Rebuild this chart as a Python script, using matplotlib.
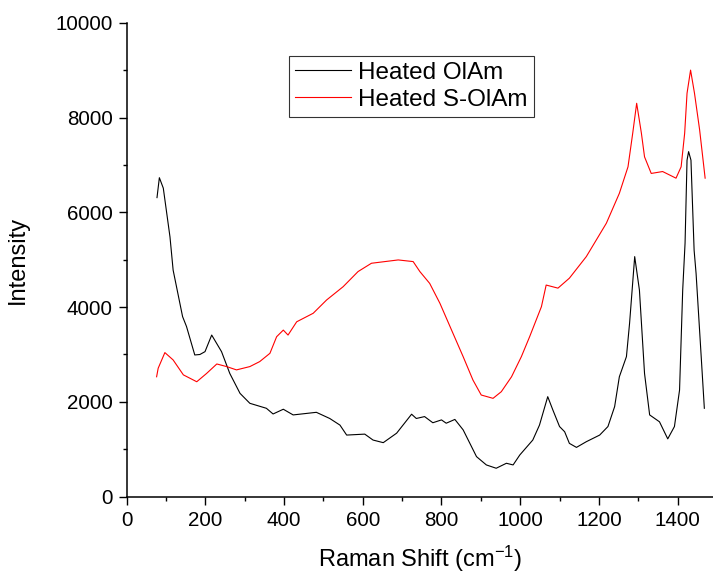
import matplotlib
matplotlib.use('Agg')
import matplotlib.pyplot as plt
from matplotlib.ticker import MultipleLocator

plt.rcParams['font.family'] = ['Liberation Sans', 'DejaVu Sans']
plt.rcParams['mathtext.default'] = 'regular'
plt.rcParams['axes.unicode_minus'] = False

# Heated OlAm (black)
olam_x = [77, 83, 93, 110, 118, 142, 152, 173, 186, 199, 216, 241, 262, 288, 313,
          355, 372, 398, 423, 482, 516, 542, 559, 605, 626, 652, 686, 724, 736,
          757, 778, 800, 812, 834, 855, 889, 914, 939, 965, 982, 999, 1032, 1049,
          1070, 1083, 1100, 1113, 1125, 1143, 1168, 1202, 1223, 1240, 1252, 1270,
          1278, 1291, 1303, 1316, 1329, 1354, 1375, 1392, 1405, 1413, 1419, 1424,
          1428, 1434, 1442, 1447, 1460, 1468]
olam_y = [6310, 6730, 6510, 5480, 4780, 3800, 3590, 2990, 3000, 3060, 3410, 3060,
          2600, 2180, 1970, 1865, 1745, 1845, 1725, 1780, 1650, 1510, 1300, 1320,
          1195, 1140, 1340, 1740, 1650, 1690, 1560, 1620, 1550, 1630, 1410, 845,
          670, 600, 705, 670, 880, 1195, 1510, 2110, 1830, 1480, 1370, 1125, 1040,
          1160, 1300, 1480, 1900, 2530, 2955, 3660, 5065, 4360, 2600, 1725, 1580,
          1220, 1480, 2250, 4360, 5350, 7100, 7280, 7100, 5200, 4710, 2955, 1865]

# Heated S-OlAm (red)
solam_x = [76, 80, 97, 118, 144, 178, 203, 229, 254, 279, 313, 338, 364, 381, 398,
           410, 432, 474, 508, 550, 588, 622, 656, 690, 728, 745, 770, 796, 829,
           855, 880, 901, 931, 952, 978, 1003, 1024, 1054, 1066, 1096, 1125, 1168,
           1193, 1219, 1252, 1274, 1286, 1296, 1308, 1316, 1333, 1362, 1396, 1409,
           1418, 1424, 1433, 1443, 1456, 1470]
solam_y = [2530, 2710, 3040, 2885, 2570, 2425, 2600, 2800, 2745, 2675, 2745, 2850,
           3025, 3375, 3515, 3410, 3690, 3870, 4150, 4430, 4750, 4925, 4960, 4995,
           4960, 4750, 4500, 4080, 3450, 2955, 2460, 2145, 2075, 2215, 2530, 2955,
           3375, 4010, 4465, 4400, 4610, 5065, 5410, 5770, 6400, 6960, 7670, 8300,
           7670, 7170, 6820, 6860, 6720, 6960, 7670, 8510, 9000, 8510, 7740, 6720]

fig = plt.figure(figsize=(7.13, 5.75), dpi=100)
ax = fig.add_axes([0.1777, 0.1362, 0.8223, 0.8243])

ax.plot(olam_x, olam_y, color='black', lw=0.8, label='Heated OlAm')
ax.plot(solam_x, solam_y, color='red', lw=0.8, label='Heated S-OlAm')

ax.set_xlim(0, 1490)
ax.set_ylim(0, 10000)
ax.xaxis.set_major_locator(MultipleLocator(200))
ax.xaxis.set_minor_locator(MultipleLocator(100))
ax.yaxis.set_major_locator(MultipleLocator(2000))
ax.yaxis.set_minor_locator(MultipleLocator(1000))
ax.tick_params(which='major', direction='out', length=6, width=1, labelsize=14.8, pad=4)
ax.tick_params(which='minor', direction='out', length=3, width=1)

for side in ['top', 'right']:
    ax.spines[side].set_visible(False)
for side in ['left', 'bottom']:
    ax.spines[side].set_linewidth(1.1)

ax.set_xlabel('Raman Shift (cm$^{-1}$)', fontsize=17, labelpad=10)
ax.set_ylabel('Intensity', fontsize=17, labelpad=19)

leg = ax.legend(loc='upper left', bbox_to_anchor=(0.277, 0.93), fontsize=17.5,
                frameon=True, fancybox=False, edgecolor='black', handlelength=2.3,
                borderpad=0.25, labelspacing=0.2, handletextpad=0.3, borderaxespad=0)
leg.get_frame().set_linewidth(0.8)

fig.savefig('out.png', dpi=100)
